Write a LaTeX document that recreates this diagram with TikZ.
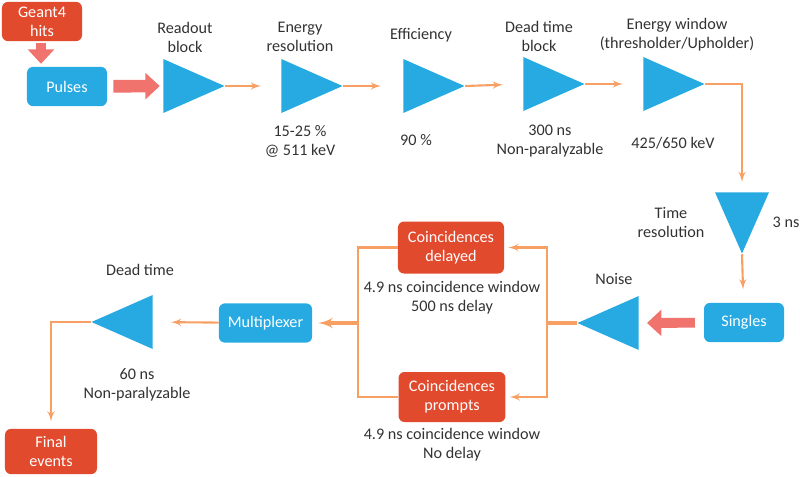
\documentclass[tikz,border=0pt]{standalone}
\usepackage{fontspec}
\setmainfont{Carlito}
\definecolor{skyblue}{RGB}{39, 170, 225}
\definecolor{vermilion}{RGB}{226, 74, 45}
\definecolor{salmon}{RGB}{240, 115, 110}
\definecolor{tangerine}{RGB}{248, 160, 100}
\definecolor{ink}{RGB}{50, 50, 50}
\usetikzlibrary{shapes,arrows,arrows.meta,positioning}

\begin{document}
\begin{tikzpicture}[x=0.025cm, y=-0.025cm, every node/.style={font=\fontsize{11.5}{13.5}\selectfont, text=ink}]
                \tikzstyle{b} = [fill=skyblue, rectangle, rounded corners=0.15cm, inner sep=1pt, minimum height=0.98cm, minimum width=2cm, text=white, align=center]
                \tikzstyle{r} = [fill=vermilion, rectangle, rounded corners=0.15cm, inner sep=1pt, minimum height=0.98cm, minimum width=2cm, text=white, align=center]
                \tikzstyle{t} = [fill=skyblue, isosceles triangle, isosceles triangle stretches, inner sep=0pt, minimum width=1.35cm, minimum height=1.53cm, anchor=lower side]
                \tikzstyle{txt} = [align=center, inner sep=0pt]
                \tikzstyle{l} = [draw=tangerine, line width=1.5pt, -latex']
                \tikzstyle{f} = [draw=salmon, line width=8pt, -{Triangle[length=0.36cm, width=0.64cm]}]
                \useasboundingbox (0,0) rectangle (800,476);

                % top row
                \node [r] (g4) at (42,21.5) {Geant4\\hits};
                \node [b] (pulses) at (67,86.5) {Pulses};
                \node [t] (readout) at (163,86) {};
                \node [t] (eres) at (281,86) {};
                \node [t] (eff) at (403,86) {};
                \node [t] (deadblk) at (523,84) {};
                \node [t] (ewin) at (643,84) {};

                \node [txt] at (185,37) {Readout\\block};
                \node [txt] at (300,37) {Energy\\resolution};
                \node [txt] at (300,141) {15-25 \%\\@ 511 keV};
                \node [txt] at (421,35) {Efficiency};
                \node [txt] at (416,140) {90 \%};
                \node [txt] at (539,36) {Dead time\\block};
                \node [txt] at (550,141) {300 ns\\Non-paralyzable};
                \node [txt] at (677,35) {Energy window\\(thresholder/Upholder)};
                \node [txt] at (673,143) {425/650 keV};

                % right column and bottom row
                \node [t, shape border rotate=270] (tres) at (742,192) {};
                \node [txt] at (671,222) {Time\\resolution};
                \node [txt] at (786,222) {3 ns};
                \node [b] (singles) at (744,322.5) {Singles};
                \node [t, shape border rotate=180] (noise) at (639,323) {};
                \node [txt] at (614,279) {Noise};
                \node [r, minimum width=2.65cm, minimum height=1.3cm] (cdel) at (451,247.5) {Coincidences\\delayed};
                \node [txt] at (452,298) {4.9 ns coincidence window\\500 ns delay};
                \node [r, minimum width=2.67cm, minimum height=1.25cm] (cprm) at (452,397) {Coincidences\\prompts};
                \node [txt] at (452,445) {4.9 ns coincidence window\\No delay};
                \node [b, minimum width=2.33cm] (mux) at (265.5,323) {Multiplexer};
                \node [t, shape border rotate=180] (deadt) at (153,322) {};
                \node [txt] at (140,270) {Dead time};
                \node [txt] at (137,385) {60 ns\\Non-paralyzable};
                \node [r, minimum width=2.3cm, minimum height=1.13cm] (final) at (51,451.5) {Final\\events};
                \coordinate (split) at (547,323);
                \coordinate (merge) at (358,323);

                \draw [f, line width=7pt, shorten <=1pt, shorten >=2pt] (g4.south -| 41,0) -- (pulses.north -| 41,0);
                \draw [f, line width=9pt, shorten <=0.15cm, shorten >=0.08cm] (pulses) -- (readout.lower side);
                \draw [l, shorten >=0.5cm] (readout.apex) -- (eres.lower side);
                \draw [l, shorten >=0.55cm] (eres.apex) -- (eff.lower side);
                \draw [l, shorten >=0.5cm] (eff.apex) -- (deadblk.lower side);
                \draw [l, shorten >=0.5cm] (deadblk.apex) -- (ewin.lower side);
                \draw [l, shorten >=0.25cm] (ewin.apex) -| (tres.lower side);
                \draw [l, shorten >=0.33cm] (tres.apex) -- (singles);
                \draw [f, line width=7pt, shorten <=0.22cm, shorten >=0.2cm] (singles) -- (noise.lower side);
                \draw [draw=tangerine, line width=2.8pt] (noise.apex) -- (split);
                \draw [l, shorten >=0.1cm] (split) |- (cdel.east);
                \draw [l, shorten >=0.1cm] (split) |- (cprm.east);
                \draw [draw=tangerine, line width=1.5pt] (cdel.west) -| (merge) |- (cprm.west);
                \draw [l, line width=2.5pt, shorten >=0.15cm] (merge) -- (mux.east);
                \draw [l, shorten >=0.45cm] (mux) -- (deadt.lower side);
                \draw [l, shorten >=0.18cm] (deadt.apex) -| (final.north);
            \end{tikzpicture}
\end{document}
